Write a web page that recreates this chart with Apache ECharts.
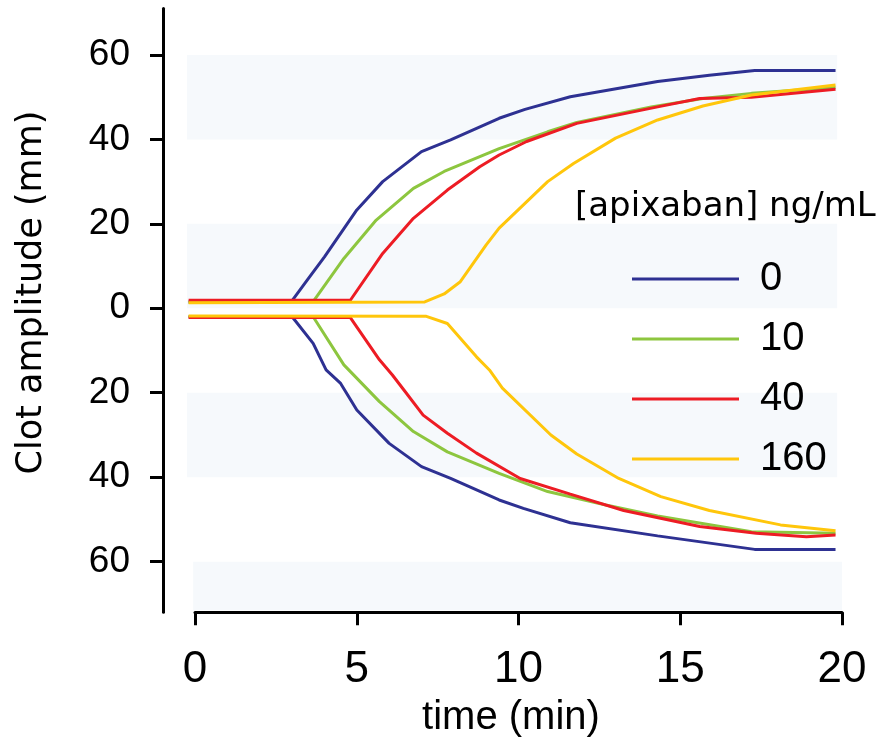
<!DOCTYPE html>
<html>
<head>
<meta charset="utf-8">
<script src="https://cdn.jsdelivr.net/npm/echarts@6/dist/echarts.min.js"></script>
<style>
html,body{margin:0;padding:0;background:#fff;}
#chart{width:894px;height:742px;}
</style>
</head>
<body>
<div id="chart"></div>
<script>
// Concentrations (legend)
const concentrations = ['0', '10', '40', '160'];
const colors = ['#2e3192', '#8dc63f', '#ed1c24', '#ffc60b'];

// Upper traces [time (min), amplitude (mm)]
const up0 = [[-0.2,1.5],[3.0,1.8],[3.5,7],[4.0,12.2],[5.0,23.3],[5.8,30.0],[7.0,37.1],[7.9,39.9],[9.4,45.0],[10.2,47.1],[11.6,50.1],[14.3,53.7],[15.9,55.2],[17.3,56.3],[19.8,56.3]];
const up10 = [[-0.2,1.5],[3.65,1.6],[4.6,11.8],[5.6,20.9],[6.75,28.4],[7.7,32.4],[9.4,37.8],[10.9,41.8],[11.8,44.0],[14.1,47.7],[15.7,49.7],[17.2,50.9],[19.8,52.3]];
const up40 = [[-0.2,1.9],[4.8,1.9],[5.8,13.0],[6.75,21.3],[7.8,28.0],[8.8,33.5],[9.4,36.3],[10.25,39.5],[11.8,43.8],[14.3,47.7],[15.6,49.7],[17.2,50.0],[19.8,51.9]];
const up160 = [[-0.2,1.3],[7.1,1.5],[7.7,3.4],[8.2,6.3],[9.0,15.0],[9.4,19.0],[10.9,30.0],[11.7,34.3],[13.0,40.3],[14.3,44.6],[15.7,47.9],[17.2,50.5],[19.8,52.9]];

// Lower traces
const low0 = [[-0.2,-2.0],[3.0,-2.0],[3.65,-8.3],[4.05,-14.6],[4.5,-17.8],[5.0,-24.1],[6.0,-32.0],[7.0,-37.5],[7.9,-40.3],[9.4,-45.4],[10.15,-47.4],[11.6,-50.8],[14.3,-53.9],[17.3,-57.1],[19.8,-57.1]];
const low10 = [[-0.2,-2.0],[3.65,-2.0],[4.6,-13.4],[5.7,-22.1],[6.75,-29.2],[7.8,-34.0],[9.4,-39.1],[10.9,-43.4],[12.7,-46.6],[14.3,-49.2],[17.2,-52.9],[19.8,-53.3]];
const low40 = [[-0.2,-2.2],[4.8,-2.2],[5.7,-12.2],[6.1,-15.8],[6.45,-19.3],[7.05,-25.3],[7.8,-29.6],[8.7,-34.3],[10.05,-40.3],[11.6,-44.0],[13.25,-47.9],[15.6,-51.7],[17.35,-53.3],[18.9,-54.1],[19.8,-53.7]];
const low160 = [[-0.2,-1.8],[7.15,-1.9],[7.8,-3.6],[8.7,-11.5],[9.1,-14.6],[9.5,-18.9],[11.0,-30.0],[11.8,-34.5],[13.1,-40.3],[14.4,-44.6],[15.9,-47.9],[18.1,-51.3],[19.8,-52.7]];

// Axis ticks
const yTicks = [-60, -40, -20, 0, 20, 40, 60];
const xTicks = [0, 5, 10, 15, 20];

// Shaded bands [y from, y to]
const bands = [[40, 60], [0, 20], [-40, -20], [-71.5, -60]];

const upper = [up0, up10, up40, up160];
const lower = [low0, low10, low40, low160];

const chart = echarts.init(document.getElementById('chart'), null, {renderer: 'canvas'});

const bandData = bands.map((b, i) => {
  const x0 = i === 3 ? -0.06 : -0.28;
  const x1 = i === 3 ? 20.1 : 19.85;
  return [{xAxis: x0, yAxis: b[1]}, {xAxis: x1, yAxis: b[0]}];
});

const series = [{
  type: 'line',
  name: '_bands',
  xAxisIndex: 0, yAxisIndex: 0,
  data: [],
  clip: false,
  z: 1,
  silent: true,
  markArea: {
    silent: true,
    itemStyle: {color: '#f6f9fc'},
    data: bandData
  }
}];

concentrations.forEach((c, i) => {
  [upper[i], lower[i]].forEach(d => {
    series.push({
      type: 'line',
      name: c,
      xAxisIndex: 0, yAxisIndex: 0,
      data: d,
      color: colors[i],
      symbol: 'none',
      showSymbol: false,
      z: 2 + i,
      lineStyle: {color: colors[i], width: 3},
      animation: false
    });
  });
});

const option = {
  animation: false,
  backgroundColor: '#ffffff',
  grid: [
    {left: 187, right: 52, top: 8.5, bottom: 129.7},
    {left: 195, right: 52, top: 8.5, bottom: 129.7}
  ],
  xAxis: [
    {type: 'value', gridIndex: 0, min: -0.25, max: 20, show: false},
    {
      type: 'value', gridIndex: 1, min: 0, max: 20, interval: 5, offset: 19,
      axisLine: {show: true, lineStyle: {color: '#000', width: 3}},
      axisTick: {show: true, length: 13, lineStyle: {color: '#000', width: 3}},
      axisLabel: {
        show: true, margin: 17, color: '#000',
        fontFamily: '"Liberation Sans Narrow", "Arial Narrow", "Liberation Sans", Arial, sans-serif',
        fontSize: 44,
        customValues: xTicks
      },
      splitLine: {show: false}
    }
  ],
  yAxis: [
    {
      type: 'value', gridIndex: 0, min: -72, max: 71, position: 'left', offset: 24,
      axisLine: {show: true, onZero: false, lineStyle: {color: '#000', width: 3}},
      axisTick: {show: true, length: 13, customValues: yTicks, lineStyle: {color: '#000', width: 3}},
      axisLabel: {
        show: true, margin: 33, color: '#000',
        fontFamily: '"Liberation Sans", Arial, sans-serif',
        fontSize: 37,
        customValues: yTicks,
        formatter: v => String(Math.abs(v))
      },
      splitLine: {show: false}
    },
    {type: 'value', gridIndex: 1, min: 0, max: 1, show: false}
  ],
  legend: {
    data: concentrations,
    orient: 'vertical',
    left: 627,
    top: 254,
    itemWidth: 107,
    itemHeight: 3,
    itemGap: 20,
    icon: 'rect',
    selectedMode: false,
    textStyle: {
      color: '#000',
      fontFamily: '"Liberation Sans", Arial, sans-serif',
      fontSize: 40,
      lineHeight: 40,
      padding: [0, 0, 0, 16]
    }
  },
  graphic: [
    {
      type: 'text', x: 31.5, y: 292.5, rotation: Math.PI / 2,
      style: {
        text: 'Clot amplitude (mm)', fill: '#000',
        font: '35px "DejaVu Sans", sans-serif',
        align: 'center', verticalAlign: 'middle'
      }
    },
    {
      type: 'text', x: 511, y: 718,
      style: {
        text: 'time (min)', fill: '#000',
        font: '40px "Liberation Sans", Arial, sans-serif',
        align: 'center', verticalAlign: 'middle'
      }
    },
    {
      type: 'text', x: 575, y: 207,
      style: {
        text: '[apixaban] ng/mL', fill: '#000',
        font: '34px "DejaVu Sans", sans-serif',
        align: 'left', verticalAlign: 'middle'
      }
    }
  ],
  series: series
};

chart.setOption(option);
</script>
</body>
</html>
